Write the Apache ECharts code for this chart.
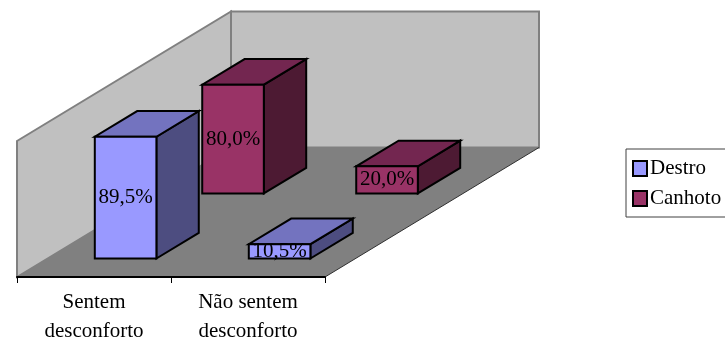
<!DOCTYPE html>
<html><head><meta charset="utf-8">
<style>html,body{margin:0;padding:0;background:#fff}#c{width:725px;height:341px}</style>
<script src="https://cdn.jsdelivr.net/npm/echarts@6/dist/echarts.min.js"></script>
</head><body><div id="c"></div>
<script>
const categories = ['Sentem\ndesconforto', 'Não sentem\ndesconforto'];
const destro = [89.5, 10.5];
const canhoto = [80.0, 20.0];
const wallData = [[0, 100]];

const DEPTH = [214, -129.5];
const FONT = '"Liberation Serif","Times New Roman",serif';
const BAR_W = 0.4, BAR_D = 0.198;

function wallItem(params, api) {
  const cs = params.coordSys;
  const [dx, dy] = DEPTH;
  const l = cs.x, r = cs.x + cs.width, t = cs.y, b = cs.y + cs.height;
  return { type: 'group', silent: true, children: [
    { type: 'polygon', shape: { points: [[l+dx,t+dy],[r+dx,t+dy],[r+dx,b+dy],[l+dx,b+dy]] },
      style: { fill: '#C0C0C0', stroke: '#808080', lineWidth: 2 } },
    { type: 'polygon', shape: { points: [[l,t],[l+dx,t+dy],[l+dx,b+dy],[l,b]] },
      style: { fill: '#C0C0C0', stroke: '#808080', lineWidth: 2 } },
    { type: 'polygon', shape: { points: [[l,b],[r,b],[r+dx,b+dy],[l+dx,b+dy]] },
      style: { fill: '#808080' } },
    { type: 'line', shape: { x1: r, y1: b, x2: r+dx, y2: b+dy },
      style: { stroke: '#303030', lineWidth: 1 } }
  ]};
}

function barRenderer(row, front, top, side) {
  return function (params, api) {
    const cat = api.value(0), val = api.value(1);
    const base = api.coord([cat, 0]), head = api.coord([cat, val]);
    const w = api.size([1, 0])[0] * BAR_W;
    const ox = DEPTH[0] * row, oy = DEPTH[1] * row;
    const dx = DEPTH[0] * BAR_D, dy = DEPTH[1] * BAR_D;
    const x0 = base[0] - w / 2 + ox + 1, x1 = x0 + w;
    const y0 = base[1] + oy, y1 = head[1] + oy;
    const st = f => ({ fill: f, stroke: '#000', lineWidth: 2, lineJoin: 'miter' });
    return { type: 'group', children: [
      { type: 'polygon', shape: { points: [[x1,y0],[x1+dx,y0+dy],[x1+dx,y1+dy],[x1,y1]] }, style: st(side) },
      { type: 'polygon', shape: { points: [[x0,y1],[x1,y1],[x1+dx,y1+dy],[x0+dx,y1+dy]] }, style: st(top) },
      { type: 'rect', shape: { x: x0, y: y1, width: w, height: y0 - y1 }, style: st(front) },
      { type: 'text', style: { text: val.toFixed(1).replace('.', ',') + '%', x: (x0+x1)/2, y: (y0+y1)/2,
          align: 'center', verticalAlign: 'middle', fill: '#000', font: '21px ' + FONT } }
    ]};
  };
}

const chart = echarts.init(document.getElementById('c'), null, { renderer: 'canvas' });
chart.setOption({
  animation: false,
  backgroundColor: '#fff',
  grid: { left: 17, top: 141, width: 308, height: 136, containLabel: false, outerBoundsMode: 'none' },
  xAxis: { type: 'category', data: categories, z: 10,
    axisLine: { show: true, lineStyle: { color: '#000', width: 2 } },
    axisTick: { show: true, length: 6, lineStyle: { color: '#000', width: 1 } },
    axisLabel: { interval: 0, color: '#000', fontFamily: FONT, fontSize: 21, lineHeight: 29, margin: 11 } },
  yAxis: { type: 'value', min: 0, max: 100, show: false, splitLine: { show: false } },
  legend: { orient: 'vertical', left: 626, top: 149, data: ['Destro', 'Canhoto'],
    icon: 'rect', itemWidth: 14, itemHeight: 15, itemGap: 9, selectedMode: false,
    padding: [9, 20, 8, 6], borderColor: '#404040', borderWidth: 1,
    textStyle: { color: '#000', fontFamily: FONT, fontSize: 21, padding: [0, 0, 0, -2] } },
  series: [
    { type: 'custom', name: 'walls', data: wallData, renderItem: wallItem, silent: true, z: 1 },
    { type: 'custom', name: 'Canhoto', data: canhoto.map((v, i) => [i, v]), z: 2,
      itemStyle: { color: '#993366', borderColor: '#000', borderWidth: 2 },
      renderItem: barRenderer(0.645, '#993366', '#732650', '#4D1A33') },
    { type: 'custom', name: 'Destro', data: destro.map((v, i) => [i, v]), z: 3,
      itemStyle: { color: '#9999FF', borderColor: '#000', borderWidth: 2 },
      renderItem: barRenderer(0.143, '#9999FF', '#7373BF', '#4D4D80') }
  ]
});
</script></body></html>
